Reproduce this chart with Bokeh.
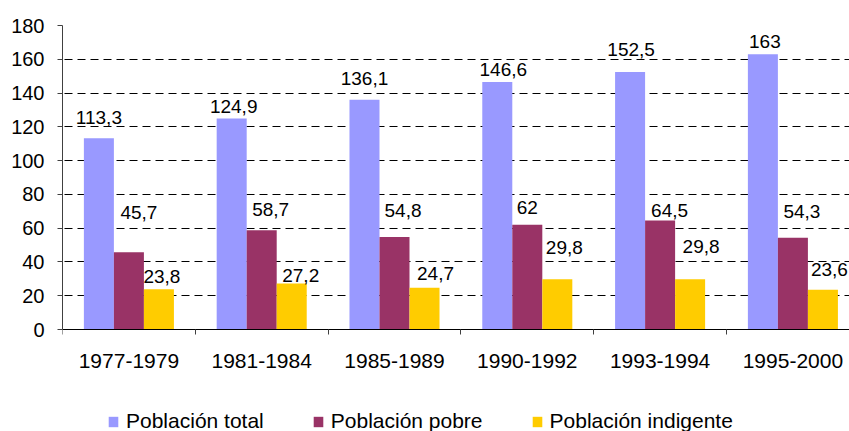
from bokeh.plotting import figure
from bokeh.models import (ColumnDataSource, Range1d, FixedTicker, CustomJSTickFormatter,
                          Legend, LegendItem, LabelSet)
from bokeh.core.properties import value
from bokeh.embed import file_html
from bokeh.resources import INLINE

# ---- data ----
categories = ["1977-1979", "1981-1984", "1985-1989", "1990-1992", "1993-1994", "1995-2000"]
series_names = ["Población total", "Población pobre", "Población indigente"]
poblacion_total = [113.3, 124.9, 136.1, 146.6, 152.5, 163]
poblacion_pobre = [45.7, 58.7, 54.8, 62, 64.5, 54.3]
poblacion_indigente = [23.8, 27.2, 24.7, 29.8, 29.8, 23.6]
y_ticks = [0, 20, 40, 60, 80, 100, 120, 140, 160, 180]

# ---- style / layout ----
colors = ["#9999FF", "#993366", "#FFCC00"]
bar_offsets = [-0.226, 0.0, 0.226]
bar_width = 0.226
# label offsets in screen pixels (dx right, dy up)
label_dx = [[0, 2, 0, 6, 1, 2],
            [10, 9, 8.5, 0, 9.5, 9],
            [3, 9, 11, 7, 11, 6.5]]
label_dy = [[21, 12, 21, 12, 22, 13],
            [40, 21, 26, 17, 10, 26],
            [13, 8.5, 14, 32, 33, 20]]
FONT = "Liberation Sans"

W, H = 849, 431
LEFT, TOP = 62, 25
ZERO_PX = 329                      # screen y of value 0
px_per_unit = (ZERO_PX - TOP) / 180.0
y_min = -(H - ZERO_PX) / px_per_unit   # extend frame down to make room for axis labels + legend

def fmt(v):
    return ("%g" % v).replace(".", ",")

p = figure(width=W, height=H, output_backend="svg", toolbar_location=None,
           x_range=Range1d(0, (W - LEFT) / 132.8), y_range=Range1d(y_min, 180),
           min_border_left=LEFT, min_border_right=0, min_border_top=TOP, min_border_bottom=0)
p.outline_line_color = None
p.background_fill_color = "white"
p.border_fill_color = "white"

all_series = [poblacion_total, poblacion_pobre, poblacion_indigente]
renderers = []
for k, vals in enumerate(all_series):
    xs = [i + 0.5 + bar_offsets[k] for i in range(len(categories))]
    src = ColumnDataSource(dict(x=xs, top=vals,
                                label=[fmt(v) for v in vals],
                                dx=label_dx[k],
                                dy=label_dy[k]))
    r = p.vbar(x="x", top="top", width=bar_width, bottom=0, source=src,
               fill_color=colors[k], line_color=None)
    renderers.append(r)
    lbl = LabelSet(x="x", y="top", text="label", source=src,
                   x_offset="dx", y_offset="dy",
                   text_align="center", text_baseline="middle",
                   text_font=value(FONT), text_font_size=value("19px"),
                   text_color=value("black"))
    p.add_layout(lbl)

# y axis
p.yaxis.ticker = FixedTicker(ticks=y_ticks)
p.yaxis.bounds = (0, 180)
p.yaxis.axis_line_color = "#404040"
p.yaxis.major_tick_line_color = "#404040"
p.yaxis.major_tick_out = 5
p.yaxis.major_tick_in = 0
p.yaxis.minor_tick_line_color = None
p.yaxis.major_label_text_font = FONT
p.yaxis.major_label_text_font_size = "20px"
p.yaxis.major_label_text_color = "black"
p.yaxis.major_label_standoff = 13

# x axis at value 0: labels at group centers, ticks at group boundaries (minor)
p.xaxis.fixed_location = 0
p.xaxis.ticker = FixedTicker(ticks=[i + 0.5 for i in range(len(categories))],
                             minor_ticks=list(range(len(categories) + 1)))
p.xaxis.formatter = CustomJSTickFormatter(args=dict(labels=categories),
                                          code="return labels[Math.floor(tick)] || '';")
p.xaxis.axis_line_color = "black"
p.xaxis.major_tick_line_color = None
p.xaxis.major_tick_out = 0
p.xaxis.major_tick_in = 0
p.xaxis.minor_tick_line_color = "#404040"
p.xaxis.minor_tick_out = 5
p.xaxis.minor_tick_in = 0
p.xaxis.major_label_text_font = FONT
p.xaxis.major_label_text_font_size = "21px"
p.xaxis.major_label_text_color = "black"
p.xaxis.major_label_standoff = 19

# grid
p.xgrid.grid_line_color = None
p.ygrid.ticker = FixedTicker(ticks=y_ticks[1:])
p.ygrid.grid_line_color = "black"
p.ygrid.grid_line_dash = "8 5"
p.ygrid.grid_line_dash_offset = 11
p.ygrid.grid_line_width = 1

legend = Legend(items=[LegendItem(label=series_names[k], renderers=[renderers[k]]) for k in range(3)],
                orientation="horizontal", location=(45, -2),
                glyph_width=12, glyph_height=13, label_standoff=7, spacing=48,
                padding=0, margin=0, border_line_color=None, background_fill_alpha=0,
                label_text_font=FONT, label_text_font_size="21px", label_text_color="black",
                label_height=21)
p.add_layout(legend, "center")

open("out.html", "w").write(file_html(p, INLINE))
